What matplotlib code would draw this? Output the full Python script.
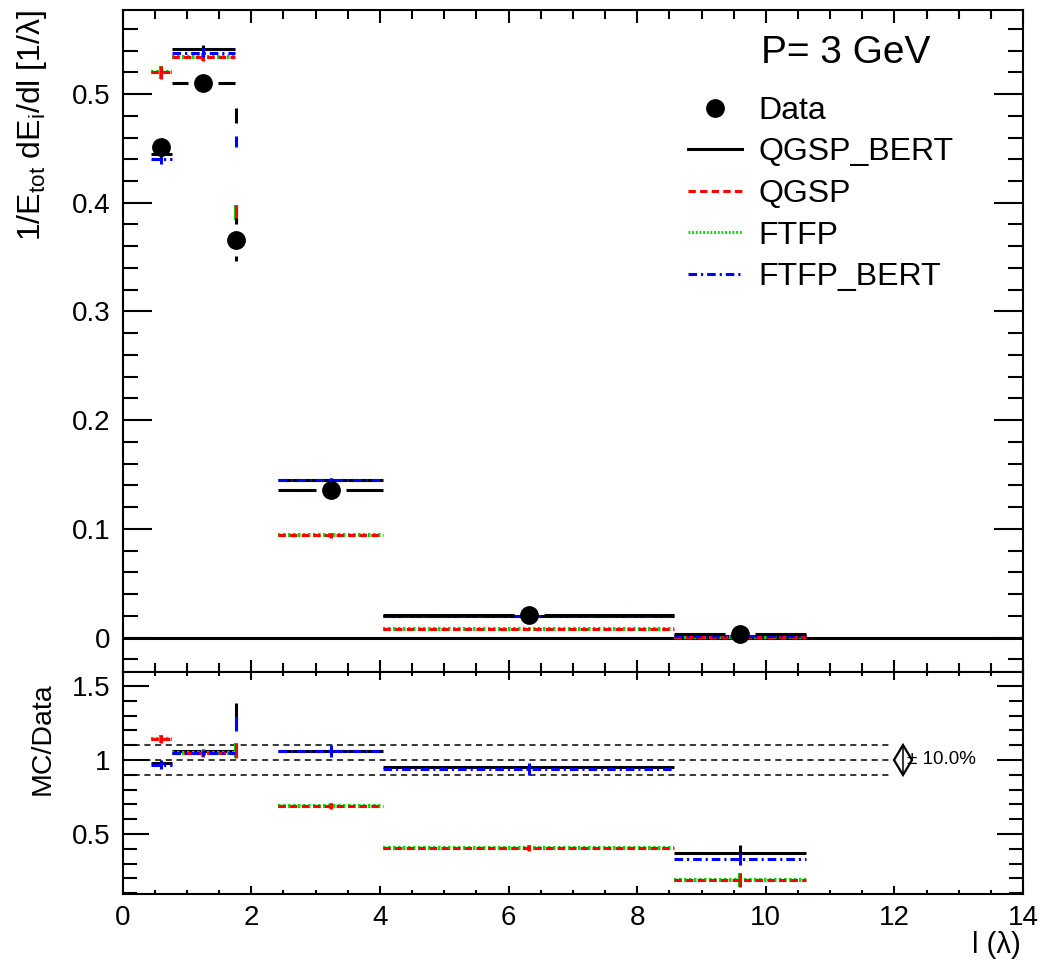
import numpy as np
import matplotlib
matplotlib.use("Agg")
import matplotlib.pyplot as plt
from matplotlib.lines import Line2D
from matplotlib.ticker import MultipleLocator

plt.rcParams['font.family'] = ['Liberation Sans', 'DejaVu Sans']
plt.rcParams['mathtext.fontset'] = 'custom'
plt.rcParams['mathtext.rm'] = 'Liberation Sans'
plt.rcParams['mathtext.it'] = 'Liberation Sans:italic'
plt.rcParams['mathtext.default'] = 'regular'

# ---------------- data ----------------
bin_lo = [0.44, 0.76, 1.755, 2.42, 4.05, 8.57]
bin_hi = [0.76, 1.75, 1.765, 4.05, 8.57, 10.63]

data_val = [0.451, 0.510, 0.366, 0.136, 0.0203, 0.0034]
data_err = [0.003, 0.003, 0.020, 0.002, 0.0005, 0.0003]

qgsp_bert = [0.445, 0.541, 0.480, 0.145, 0.0200, 0.0013]
qgsp_bert_err = [0.002, 0.004, 0.007, 0.002, 0.0005, 0.0003]
qgsp = [0.520, 0.534, 0.391, 0.094, 0.0080, 0.0007]
qgsp_err = [0.006, 0.004, 0.007, 0.002, 0.0005, 0.0003]
ftfp = [0.520, 0.534, 0.391, 0.094, 0.0080, 0.0007]
ftfp_err = [0.006, 0.004, 0.007, 0.002, 0.0005, 0.0003]
ftfp_bert = [0.440, 0.538, 0.456, 0.145, 0.0195, 0.0012]
ftfp_bert_err = [0.004, 0.004, 0.005, 0.002, 0.0005, 0.0003]

r_qgsp_bert = [0.978, 1.061, 1.309, 1.063, 0.950, 0.374]
r_qgsp_bert_err = [0.02, 0.01, 0.074, 0.02, 0.02, 0.05]
r_qgsp = [1.142, 1.045, 1.063, 0.690, 0.405, 0.190]
r_qgsp_err = [0.03, 0.025, 0.05, 0.02, 0.02, 0.045]
r_ftfp = [1.142, 1.045, 1.063, 0.690, 0.405, 0.190]
r_ftfp_err = [0.03, 0.025, 0.05, 0.02, 0.02, 0.045]
r_ftfp_bert = [0.966, 1.050, 1.248, 1.060, 0.937, 0.330]
r_ftfp_bert_err = [0.03, 0.02, 0.05, 0.04, 0.04, 0.04]

band = 0.10  # +-10 %

labels = ["Data", "QGSP_BERT", "QGSP", "FTFP", "FTFP_BERT"]
colors = ["black", "black", "red", "#00dd00", "blue"]
styles = ["-", "-", (0, (2.4, 1.4)), (0, (0.6, 0.6)), (0, (2.8, 1.3, 0.7, 1.3))]
zorders = [0, 3, 5, 4, 6]
widths = [2.2, 2.2, 2.2, 3.0, 2.2]

lo = np.array(bin_lo)
hi = np.array(bin_hi)
cen = 0.5 * (lo + hi)

# ---------------- figure ----------------
W, H = 1040, 968
fig = plt.figure(figsize=(W / 100, H / 100), dpi=100)
ax1 = fig.add_axes([0.1180, 0.30579, 0.8657, 0.68388])
ax2 = fig.add_axes([0.1180, 0.07645, 0.8657, 0.22934])

for ax in (ax1, ax2):
    ax.set_xlim(0, 14)
    for s in ax.spines.values():
        s.set_linewidth(1.5)
    ax.xaxis.set_major_locator(MultipleLocator(2))
    ax.xaxis.set_minor_locator(MultipleLocator(0.5))
    ax.tick_params(which='both', direction='in', top=True, right=True,
                   labelsize=20, width=1.5)

ax1.set_ylim(-0.0317, 0.5773)
ax1.yaxis.set_major_locator(MultipleLocator(0.1))
ax1.yaxis.set_minor_locator(MultipleLocator(0.02))
ax1.tick_params(axis='y', which='major', length=21, pad=9)
ax1.tick_params(axis='y', which='minor', length=10.5)
ax1.tick_params(axis='x', which='major', length=9, labelbottom=False)
ax1.tick_params(axis='x', which='minor', length=6.5)
ax1.set_yticks([0, 0.1, 0.2, 0.3, 0.4, 0.5])
ax1.set_yticklabels(["0", "0.1", "0.2", "0.3", "0.4", "0.5"])

ax2.set_ylim(0.0946, 1.5946)
ax2.yaxis.set_major_locator(MultipleLocator(0.5))
ax2.yaxis.set_minor_locator(MultipleLocator(0.1))
ax2.tick_params(axis='y', which='major', length=19, pad=9)
ax2.tick_params(axis='y', which='minor', length=10)
ax2.tick_params(axis='x', which='major', length=6, pad=8)
ax2.tick_params(axis='x', which='minor', length=3)
ax2.set_yticks([0.5, 1.0, 1.5])
ax2.set_yticklabels(["0.5", "1", "1.5"])

lw = 2.2

# zero line
ax1.axhline(0, color='black', lw=2.2, zorder=1)

def draw_mc(ax, vals, errs, color, ls, z, w):
    v = np.array(vals)
    e = np.array(errs)
    ax.hlines(v, lo, hi, colors=color, linestyles=[ls], lw=w, zorder=z)
    ax.vlines(cen, v - e, v + e, colors=color, lw=w, zorder=z)

mc_top = [(qgsp_bert, qgsp_bert_err), (qgsp, qgsp_err), (ftfp, ftfp_err), (ftfp_bert, ftfp_bert_err)]
mc_rat = [(r_qgsp_bert, r_qgsp_bert_err), (r_qgsp, r_qgsp_err), (r_ftfp, r_ftfp_err), (r_ftfp_bert, r_ftfp_bert_err)]
for i, ((tv, te), (rv, re)) in enumerate(zip(mc_top, mc_rat)):
    k = i + 1
    draw_mc(ax1, tv, te, colors[k], styles[k], zorders[k], widths[k])
    draw_mc(ax2, rv, re, colors[k], styles[k], zorders[k], widths[k])

# data with ROOT-style gaps around markers
fig.canvas.draw()
p0 = ax1.transData.transform((0, 0))
p1 = ax1.transData.transform((1, 1))
px_x = (p1[0] - p0[0])
px_y = (p1[1] - p0[1])
gap_x = 15 / px_x
gap_y = 16 / px_y
dv = np.array(data_val)
de = np.array(data_err)
m = (cen - gap_x) > lo
ax1.hlines(dv[m], lo[m], cen[m] - gap_x, colors='black', lw=lw, zorder=10)
ax1.hlines(dv[m], cen[m] + gap_x, hi[m], colors='black', lw=lw, zorder=10)
mv = de > gap_y
ax1.vlines(cen[mv], dv[mv] - de[mv], dv[mv] - gap_y, colors='black', lw=lw, zorder=10)
ax1.vlines(cen[mv], dv[mv] + gap_y, dv[mv] + de[mv], colors='black', lw=lw, zorder=10)
ax1.plot(cen, dv, 'o', color='black', ms=12.5, zorder=11)

# ratio band lines
for yv in (1 - band, 1.0, 1 + band):
    ax2.hlines(yv, 0, 11.96, colors='black', lw=1.1, linestyles=[(0, (4, 3))], zorder=2)
ax2.plot([12.13], [1.0], marker='d', ms=15, mfc='none', mec='black', mew=1.6, zorder=2)
ax2.vlines(12.13, 1 - band, 1 + band, colors='black', lw=1.1)
ax2.text(12.2, 1.0, "± %.1f%%" % (band * 100), fontsize=13.5, va='center', ha='left')

# labels
ax1.set_ylabel(r"1/E$_{tot}$ dE$_{i}$/dl [1/λ]", fontsize=23, loc='top')
ax1.yaxis.set_label_coords(-0.082, 1.0)
ax2.set_ylabel("MC/Data", fontsize=20.5, loc='top')
ax2.yaxis.set_label_coords(-0.075, 0.955)
ax2.set_xlabel("l (λ)", fontsize=21, loc='right')
ax2.xaxis.set_label_coords(0.997, -0.165)

fig.text(760.7 / W, 1 - 63.3 / H, "P= 3 GeV", fontsize=28, va='baseline', ha='left')

handles = [Line2D([], [], ls='none', marker='o', color='black', ms=12.5)]
for i in range(1, 5):
    handles.append(Line2D([], [], color=colors[i], lw=widths[i] if i != 3 else 2.2, ls=styles[i]))
leg = ax1.legend(handles, labels, loc='upper left', bbox_to_anchor=(688 / W, 1 - 96 / H),
                 bbox_transform=fig.transFigure, frameon=False, fontsize=23,
                 handlelength=1.7, handletextpad=0.5, labelspacing=0.36,
                 borderpad=0, borderaxespad=0)

fig.savefig("out.png", dpi=100)
